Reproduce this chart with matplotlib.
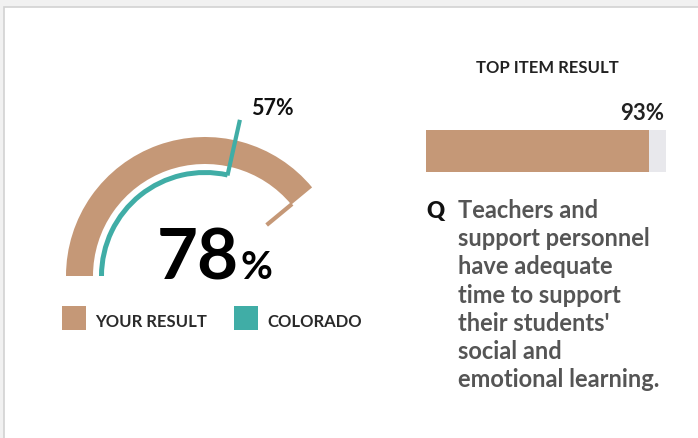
import matplotlib.pyplot as plt
import numpy as np
from matplotlib.patches import Wedge, Rectangle

# data
your_result = 78
colorado = 57
top_item = 93
legend_labels = ['YOUR RESULT', 'COLORADO']
top_title = 'TOP ITEM RESULT'
question_lines = ['Teachers and', 'support personnel', 'have adequate',
                  'time to support', "their students'", 'social and',
                  'emotional learning.']

TAN = '#c59877'
TEAL = '#40ada6'
W, H = 698, 439

plt.rcParams['font.family'] = ['Lato', 'DejaVu Sans']

fig = plt.figure(figsize=(W / 100, H / 100), dpi=100, facecolor='#f1f1f1')
ax = fig.add_axes([0, 0, 1, 1])
ax.set_xlim(0, W)
ax.set_ylim(0, H)
ax.axis('off')


def Y(y):
    # pixel row -> data y
    return H - y


ax.add_patch(Rectangle((3.5, -10), 800, Y(7.5) + 10, facecolor='white',
                       edgecolor='#d2d2d2', lw=1.2))

# gauge
cx, cy = 205, Y(277)


def ang(p):
    return 180 - 1.8 * p


ax.add_patch(Wedge((cx, cy), 139, ang(your_result), 180, width=27,
                   facecolor=TAN, edgecolor='none'))
ax.add_patch(Wedge((cx, cy), 106, ang(colorado), 180, width=5,
                   facecolor=TEAL, edgecolor='none'))

a = np.radians(ang(colorado))
ax.plot([cx + 103 * np.cos(a), cx + 160 * np.cos(a)],
        [cy + 103 * np.sin(a), cy + 160 * np.sin(a)],
        color=TEAL, lw=3, solid_capstyle='butt')
a = np.radians(ang(your_result))
ax.plot([cx + 113 * np.cos(a), cx + 80 * np.cos(a)],
        [cy + 113 * np.sin(a), cy + 80 * np.sin(a)],
        color=TAN, lw=3, solid_capstyle='butt')

ax.text(251, Y(115), f'{colorado}%', fontsize=15.5, fontweight='bold',
        color='#111111', ha='left', va='baseline')

ax.text(239, Y(279), f'{your_result}', fontsize=51, fontweight='bold',
        color='black', ha='right', va='baseline')
ax.text(241, Y(279), '%', fontsize=28, fontweight='bold',
        color='black', ha='left', va='baseline')

# legend
for x0, col, lab in [(62, TAN, legend_labels[0]), (234, TEAL, legend_labels[1])]:
    ax.add_patch(Rectangle((x0, Y(331)), 24, 24, facecolor=col, edgecolor='none'))
    ax.text(x0 + 33, Y(327), lab, fontsize=12, fontweight='bold',
            color='#2a2a2a', ha='left', va='baseline')

# top item result
ax.text(547, Y(73), top_title, fontsize=12, fontweight='bold',
        color='#222222', ha='center', va='baseline')
ax.text(664, Y(120), f'{top_item}%', fontsize=16, fontweight='bold',
        color='#222222', ha='right', va='baseline')
bx0, bx1 = 426, 666
ax.barh(Y(152), bx1 - bx0, left=bx0, height=42, color='#e8e8ec')
ax.barh(Y(152), (bx1 - bx0) * top_item / 100, left=bx0, height=42, color=TAN)

# question
ax.text(426, Y(218), 'Q', fontsize=16, fontweight='heavy', color='#111111',
        ha='left', va='baseline')
for i, line in enumerate(question_lines):
    ax.text(458, Y(218 + 28.2 * i), line, fontsize=17, fontweight='bold',
            color='#555555', ha='left', va='baseline')

fig.savefig('out.png', dpi=100, facecolor=fig.get_facecolor())
